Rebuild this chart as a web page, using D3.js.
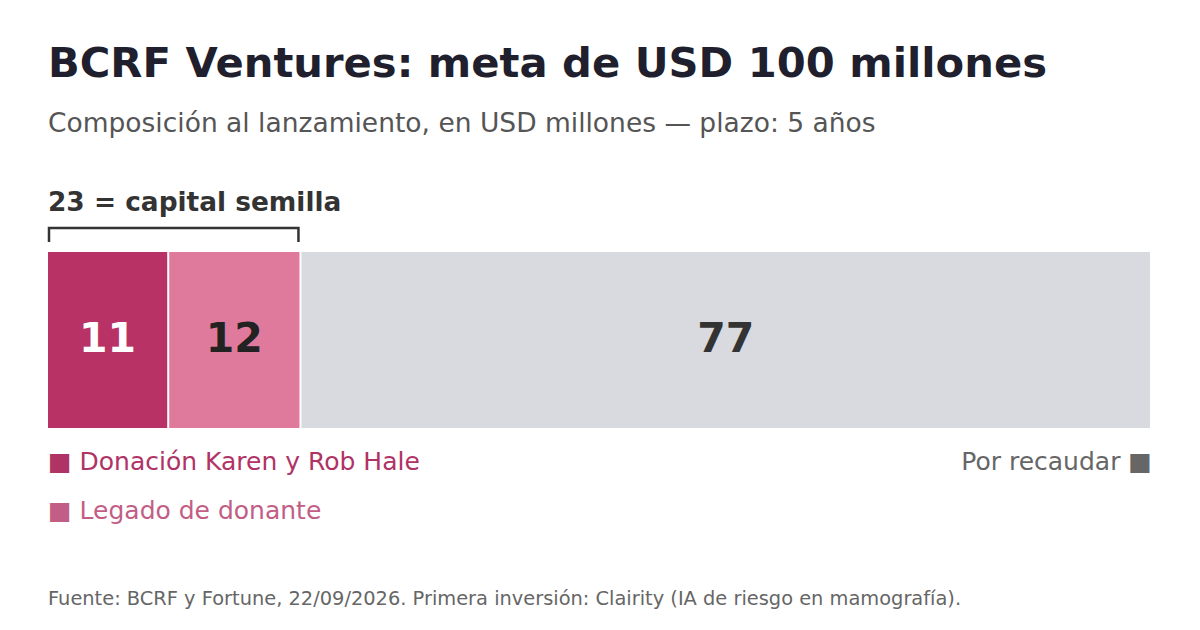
<!DOCTYPE html>
<html>
<head>
<meta charset="utf-8">
<script src="https://cdn.jsdelivr.net/npm/d3@7"></script>
<style>
  body { margin: 0; background: #fff; }
  svg { font-family: "DejaVu Sans", sans-serif; display: block; }
</style>
</head>
<body>
<svg id="chart" width="1200" height="630"></svg>
<script>
// values (USD millones)
var segments = ["Donación Karen y Rob Hale", "Legado de donante", "Por recaudar"];
var amounts = [11, 12, 77];
var fills = ["#b83266", "#e07a9c", "#d9dae0"];
var labelColors = ["#ffffff", "#222222", "#333333"];
var seedTotal = 23;
var goal = 100;

var svg = d3.select("#chart");

var x = d3.scaleLinear().domain([0, goal]).range([48, 1150]);
var barTop = 252, barH = 176;

// stack the segments
var starts = [], acc = 0;
amounts.forEach(function(v){ starts.push(acc); acc += v; });

var data = amounts.map(function(v, i){
  return { name: segments[i], value: v, start: starts[i], fill: fills[i], label: labelColors[i] };
});

// title + subtitle
svg.append("text")
  .attr("x", 48).attr("y", 77)
  .attr("font-size", 41.7).attr("font-weight", "bold")
  .attr("fill", "#1f1f2e")
  .text("BCRF Ventures: meta de USD 100 millones");

svg.append("text")
  .attr("x", 48).attr("y", 132)
  .attr("font-size", 26.5)
  .attr("fill", "#555555")
  .text("Composición al lanzamiento, en USD millones — plazo: 5 años");

// seed capital annotation
svg.append("text")
  .attr("x", 48).attr("y", 211)
  .attr("font-size", 26.4).attr("font-weight", "bold")
  .attr("fill", "#333333")
  .text(seedTotal + " = capital semilla");

svg.append("path")
  .attr("d", "M" + (x(0) + 1) + ",242 V228 H" + (x(seedTotal) - 3) + " V242")
  .attr("fill", "none")
  .attr("stroke", "#333333")
  .attr("stroke-width", 2.5);

// bars
svg.selectAll("rect.seg")
  .data(data)
  .enter().append("rect")
  .attr("class", "seg")
  .attr("x", function(d){ return x(d.start); })
  .attr("y", barTop)
  .attr("width", function(d, i){
    var w = x(d.start + d.value) - x(d.start);
    return i < data.length - 1 ? w - 2 : w;
  })
  .attr("height", barH)
  .attr("fill", function(d){ return d.fill; });

svg.selectAll("text.val")
  .data(data)
  .enter().append("text")
  .attr("class", "val")
  .attr("x", function(d, i){
    var w = x(d.start + d.value) - x(d.start);
    return x(d.start) + (i < data.length - 1 ? w - 2 : w) / 2;
  })
  .attr("y", barTop + barH / 2 + 12)
  .attr("text-anchor", "middle")
  .attr("font-size", 41).attr("font-weight", "bold")
  .attr("fill", function(d){ return d.label; })
  .text(function(d){ return d.value; });

// legend
svg.append("text")
  .attr("x", 48).attr("y", 470)
  .attr("font-size", 25)
  .attr("fill", "#b03366")
  .text("■ " + segments[0]);

svg.append("text")
  .attr("x", 48).attr("y", 519)
  .attr("font-size", 25)
  .attr("fill", "#c25e86")
  .text("■ " + segments[1]);

svg.append("text")
  .attr("x", 1152).attr("y", 470)
  .attr("text-anchor", "end")
  .attr("font-size", 25)
  .attr("fill", "#666666")
  .text(segments[2] + " ■");

// source
svg.append("text")
  .attr("x", 48).attr("y", 605)
  .attr("font-size", 19.4)
  .attr("fill", "#666666")
  .text("Fuente: BCRF y Fortune, 22/09/2026. Primera inversión: Clairity (IA de riesgo en mamografía).");
</script>
</body>
</html>
